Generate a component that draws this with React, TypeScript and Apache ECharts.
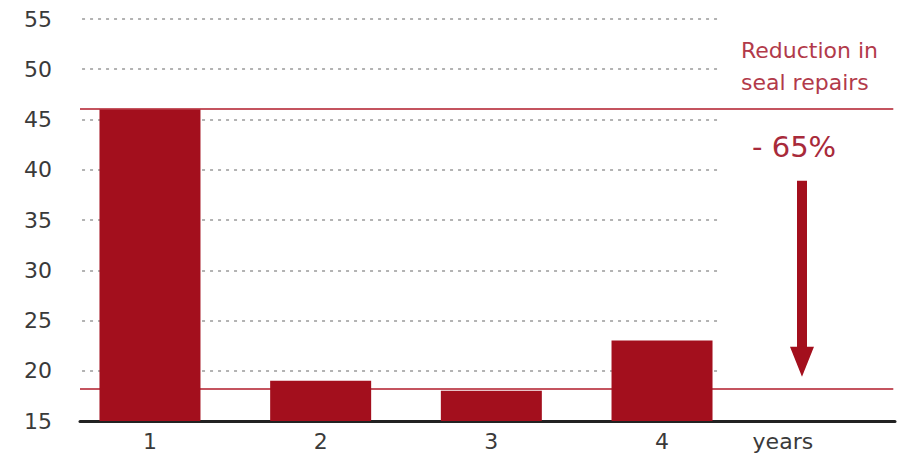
import React, { useEffect, useRef } from "react";
import * as echarts from "echarts";

const categories = [1, 2, 3, 4];
const tickLabels = ["1", "2", "3", "4", "years"];
const repairs = [46, 19, 18, 23];
const gridValues = [20, 25, 30, 35, 40, 45, 50, 55];
const referenceHigh = 46.1;
const referenceLow = 18.2;
const arrowFrom = 38.9;
const arrowTo = 20.9;
const annotationTitle = ["Reduction in", "seal repairs"];
const annotationValue = "- 65%";

const X_MIN = 0.59;
const X_MAX = 5.365;
const YEARS_POS = 4.708;
const GRID_END = 4.339;
const ARROW_X = 4.82;

export default function App() {
  const ref = useRef<HTMLDivElement>(null);
  useEffect(() => {
    if (!ref.current) return;
    const chart = echarts.init(ref.current, null, { renderer: "svg" });
    const barRed = "#a30f1d";
    const lineRed = "#c4545f";
    const fontFamily = "'DejaVu Sans', sans-serif";

    const dotted = gridValues.map((v) => [
      { coord: [X_MIN + 0.012, v], lineStyle: { color: "#9a9a9a", width: 1.5, type: [3, 5] } },
      { coord: [GRID_END, v] },
    ]);
    const redLines = [referenceHigh, referenceLow].map((v) => [
      { coord: [X_MIN, v], lineStyle: { color: lineRed, width: 2, type: "solid" } },
      { coord: [X_MAX - 0.01, v] },
    ]);
    const arrow = [
      { coord: [ARROW_X, arrowFrom], symbol: "none", lineStyle: { color: barRed, width: 10, type: "solid" } },
      { coord: [ARROW_X, arrowTo], symbol: "triangle", symbolSize: [24, 30] },
    ];

    chart.setOption({
      animation: false,
      grid: { left: 80, right: 12, top: 19, bottom: 41 },
      xAxis: {
        type: "value",
        min: X_MIN,
        max: X_MAX,
        splitLine: { show: false },
        axisLine: { show: true, lineStyle: { color: "#222", width: 3 } },
        axisTick: { show: false },
        axisLabel: {
          customValues: [...categories, YEARS_POS],
          formatter: (v: number) => {
            const i = categories.indexOf(Math.round(v * 1000) / 1000);
            return i >= 0 ? tickLabels[i] : tickLabels[4];
          },
          color: "#3a3a3a",
          fontSize: 22,
          fontFamily,
          margin: 9,
        },
      },
      yAxis: {
        type: "value",
        min: 15,
        max: 55,
        interval: 5,
        splitLine: { show: false },
        axisLine: { show: false },
        axisTick: { show: false },
        axisLabel: { color: "#3a3a3a", fontSize: 22, fontFamily, margin: 28 },
      },
      series: [
        {
          type: "bar",
          data: categories.map((c, i) => [c, repairs[i]]),
          barWidth: 101,
          itemStyle: { color: barRed },
          z: 3,
          markLine: {
            silent: true,
            symbol: "none",
            label: { show: false },
            z: 2,
            data: [...dotted, ...redLines],
          },
        },
        {
          type: "line",
          data: [],
          markLine: {
            silent: true,
            symbol: ["none", "triangle"],
            label: { show: false },
            z: 4,
            data: [arrow],
          },
        },
      ],
      graphic: [
        {
          type: "text",
          left: 741,
          top: 34,
          style: {
            text: annotationTitle.join("\n"),
            fill: "#b23a4a",
            fontSize: 22,
            lineHeight: 32,
            fontFamily,
          },
        },
        {
          type: "text",
          left: 752,
          top: 132,
          style: {
            text: annotationValue,
            fill: "#a82a3a",
            fontSize: 29,
            fontFamily,
          },
        },
      ],
    });
    return () => chart.dispose();
  }, []);
  return <div ref={ref} style={{ width: 907, height: 462, position: "absolute", left: 0, top: 0, background: "#fff" }} />;
}
